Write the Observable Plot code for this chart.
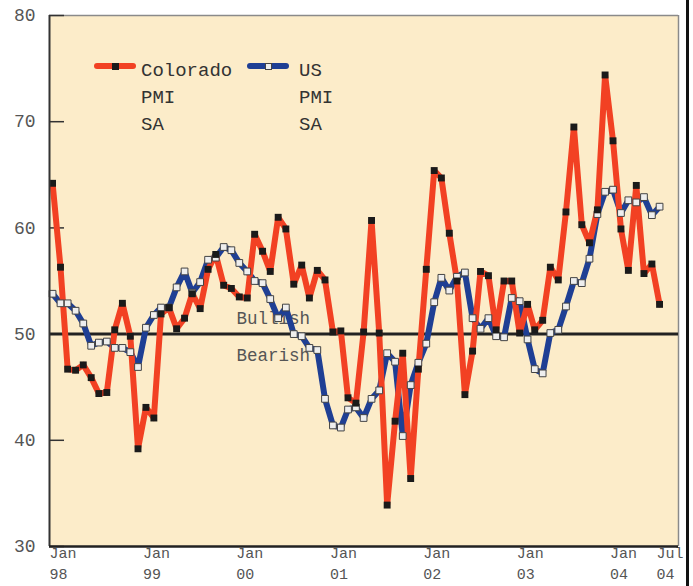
<!DOCTYPE html>
<html><head><meta charset="utf-8">
<script src="https://cdn.jsdelivr.net/npm/d3@7"></script>
<script src="https://cdn.jsdelivr.net/npm/@observablehq/plot@0.6"></script>
<style>
body{margin:0;background:#fff;}
#wrap{position:relative;width:693px;height:586px;font-family:"Liberation Mono",monospace;overflow:hidden;}
#wrap svg{position:absolute;left:0;top:0;}
.edge{position:absolute;left:686px;top:0;width:3px;height:586px;background:#111;}
.lg-line{position:absolute;height:6px;border-radius:3px;}
.lg-sq{position:absolute;width:7px;height:7px;box-sizing:border-box;}
.lg-txt{position:absolute;font-size:19px;line-height:27px;color:#333;white-space:pre;}
</style></head><body><div id="wrap"></div>
<script>
const seriesNames = ["Colorado\nPMI\nSA", "US\nPMI\nSA"];
const colorado = [64.2,56.3,46.7,46.6,47.1,45.9,44.4,44.5,50.4,52.9,49.8,39.2,
  43.1,42.1,51.9,52.5,50.5,51.5,53.8,52.4,56.1,57.5,54.6,54.3,
  53.5,53.4,59.4,57.8,55.9,61.0,59.9,54.7,56.5,53.4,56.0,55.1,
  50.2,50.3,44.0,43.5,50.2,60.7,50.1,33.9,41.8,48.2,36.4,46.7,
  56.1,65.4,64.7,59.5,55.0,44.3,48.4,55.9,55.5,50.4,55.0,55.0,
  50.1,52.8,50.4,51.3,56.3,55.1,61.5,69.5,60.3,58.6,61.7,74.4,
  68.2,59.9,56.0,64.0,55.7,56.6,52.8];
const us = [53.8,52.9,52.9,52.2,51.0,48.9,49.2,49.3,48.7,48.7,48.3,46.9,
  50.6,51.8,52.5,52.5,54.4,55.9,53.9,54.9,57.0,57.2,58.2,57.9,
  56.7,55.9,55.0,54.8,53.3,51.5,52.5,50.0,49.8,48.7,48.5,43.9,
  41.4,41.2,42.9,43.1,42.1,43.9,44.7,48.2,47.4,40.4,45.2,47.3,
  49.1,53.0,55.3,54.1,55.4,55.8,51.5,50.5,51.5,49.8,49.7,53.4,
  53.1,49.5,46.7,46.3,50.1,50.4,52.6,55.0,54.8,57.1,61.3,63.4,
  63.6,61.4,62.6,62.4,62.9,61.2,62.0];
const yTicks = [30,40,50,60,70,80];
const xTickLabels = ["Jan\n98","Jan\n99","Jan\n00","Jan\n01","Jan\n02","Jan\n03","Jan\n04","Jul\n04"];
const xTickMonths = [0,12,24,36,48,60,72,78];
const zoneLabels = ["Bullish","Bearish"];

const RED = "#f24123", BLUE = "#1f3f94", BG = "#fcecc9";
const months = colorado.map((_, i) => new Date(Date.UTC(1998, i, 1)));
const data = months.map((d, i) => ({date: d, co: colorado[i], us: us[i]}));
const tickDates = xTickMonths.map(m => months[m]);
const labelOf = new Map(tickDates.map((d, i) => [+d, xTickLabels[i]]));
const x0 = new Date(Date.UTC(1997, 11, 20)), x1 = new Date(Date.UTC(2004, 8, 13));
const zoneX = new Date(Date.UTC(1999, 11, 21));

const plot = Plot.plot({
  width: 693, height: 586,
  marginLeft: 49, marginRight: 15, marginTop: 15, marginBottom: 40,
  style: {fontFamily: "Liberation Mono", background: "transparent"},
  x: {type: "utc", domain: [x0, x1]},
  y: {domain: [30, 80]},
  marks: [
    Plot.frame({fill: BG, stroke: null}),
    Plot.ruleY([80], {stroke: "#8a8a8a", strokeWidth: 1.5}),
    Plot.ruleX([x1], {stroke: "#8a8a8a", strokeWidth: 1.5}),
    Plot.axisY({ticks: yTicks, tickSize: -15, tickFormat: () => "", stroke: "#333", strokeWidth: 1.5, label: null}),
    Plot.axisY({ticks: yTicks, tickSize: 0, tickPadding: 14, fontSize: 18, fill: "#555", label: null}),
    Plot.axisX({ticks: tickDates, tickSize: 0, tickPadding: -3, tickFormat: d => labelOf.get(+d),
      textAnchor: "start", dx: -3, fontSize: 15, lineHeight: 1.4, fill: "#555", label: null}),
    Plot.ruleY([50], {stroke: "#222", strokeWidth: 3}),
    Plot.text([zoneLabels[0]], {x: () => zoneX, y: () => 50, text: d => d, textAnchor: "start", dy: -16, fontSize: 17.5, fill: "#555"}),
    Plot.text([zoneLabels[1]], {x: () => zoneX, y: () => 50, text: d => d, textAnchor: "start", dy: 21, fontSize: 17.5, fill: "#555"}),
    Plot.line(data, {x: "date", y: "us", stroke: BLUE, strokeWidth: 6, strokeLinejoin: "round", strokeLinecap: "round"}),
    Plot.line(data, {x: "date", y: "co", stroke: RED, strokeWidth: 6, strokeLinejoin: "round", strokeLinecap: "round"}),
    Plot.dot(data, {x: "date", y: "us", symbol: "square", r: 3.8, fill: "#eeeeee", stroke: "#444", strokeWidth: 1}),
    Plot.dot(data, {x: "date", y: "co", symbol: "square", r: 3.9, fill: "#1a1a1a", stroke: "none"}),
    Plot.ruleX([x0], {stroke: "#333", strokeWidth: 2}),
    Plot.ruleY([30], {stroke: "#222", strokeWidth: 2.5})
  ]
});
const wrap = document.getElementById("wrap");
wrap.appendChild(plot);

function legendItem(lineLeft, color, sqFill, sqStroke, textLeft, name) {
  const l = document.createElement("div");
  l.className = "lg-line"; l.style.left = lineLeft + "px"; l.style.top = "63px";
  l.style.width = "42px"; l.style.background = color; wrap.appendChild(l);
  const s = document.createElement("div");
  s.className = "lg-sq"; s.style.left = (lineLeft + 18) + "px"; s.style.top = "62.5px";
  s.style.background = sqFill; if (sqStroke) s.style.border = "1px solid " + sqStroke;
  wrap.appendChild(s);
  const t = document.createElement("div");
  t.className = "lg-txt"; t.style.left = textLeft + "px"; t.style.top = "58px";
  t.textContent = name; wrap.appendChild(t);
}
legendItem(94, RED, "#1a1a1a", null, 141, seriesNames[0]);
legendItem(247, BLUE, "#eeeeee", "#444", 299, seriesNames[1]);
const e = document.createElement("div"); e.className = "edge"; wrap.appendChild(e);
</script></body></html>
